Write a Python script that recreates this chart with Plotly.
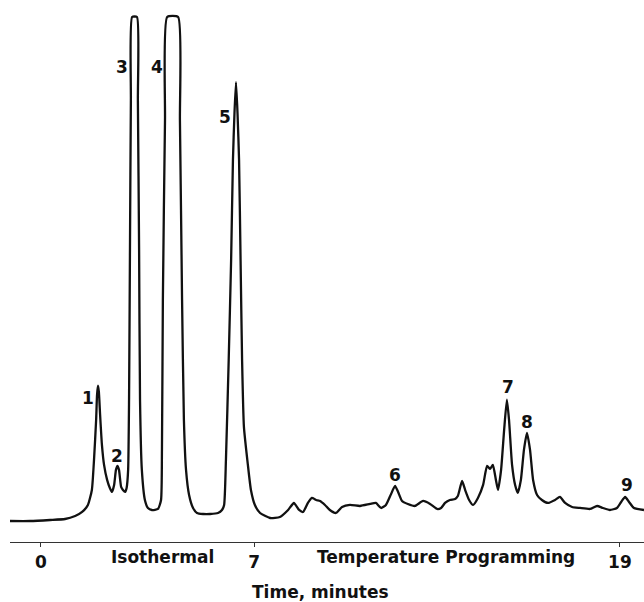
import plotly.graph_objects as go

# Retention time (minutes) and detector response (% of full scale)
time_min = [-1.02, -0.36, 0.30, 0.79, 1.12, 1.35, 1.54, 1.67, 1.74, 1.81, 1.84, 1.87, 1.90, 1.94,
            2.00, 2.07, 2.17, 2.26, 2.33, 2.40, 2.46, 2.51, 2.56, 2.63, 2.69, 2.76, 2.81, 2.86,
            2.89, 2.92, 2.95, 2.99, 3.15, 3.18, 3.22, 3.25, 3.31, 3.41, 3.51, 3.64, 3.84, 3.94,
            3.97, 4.00, 4.07, 4.14, 4.50, 4.56, 4.63, 4.69, 4.76, 4.86, 4.99, 5.12, 5.32, 5.55,
            5.81, 5.94, 6.01, 6.07, 6.16, 6.24, 6.30, 6.35, 6.40, 6.45, 6.50, 6.55, 6.60, 6.66,
            6.79, 6.89, 7.02, 7.19, 7.52, 7.84, 8.11, 8.30, 8.47, 8.60, 8.76, 8.89, 9.03, 9.16,
            9.32, 9.48, 9.68, 9.88, 10.14, 10.47, 10.80, 10.99, 11.16, 11.32, 11.49, 11.62, 11.72,
            11.85, 12.04, 12.27, 12.54, 12.77, 13.00, 13.13, 13.26, 13.42, 13.59, 13.68, 13.82,
            13.92, 14.05, 14.18, 14.34, 14.51, 14.64, 14.74, 14.83, 14.93, 15.00, 15.10, 15.20,
            15.29, 15.36, 15.46, 15.56, 15.65, 15.75, 15.85, 15.95, 16.05, 16.15, 16.28, 16.44,
            16.64, 16.87, 17.03, 17.20, 17.43, 17.69, 18.02, 18.25, 18.44, 18.67, 18.90, 19.04,
            19.17, 19.30, 19.46, 19.79]
response = [-0.6, -0.6, -0.4, -0.2, 0.4, 1.2, 2.6, 5.6, 11.6, 19.6, 24.6, 26.4, 25.2, 20.6,
            14.6, 10.6, 7.6, 6.0, 5.2, 6.6, 9.6, 10.4, 9.6, 6.2, 5.6, 5.2, 6.0, 9.6,
            23.6, 53.5, 83.4, 100, 100, 83.4, 53.5, 23.6, 9.6, 3.6, 2.0, 1.6, 1.8, 3.6,
            13.6, 43.5, 79.4, 100, 100, 79.4, 43.5, 19.6, 9.6, 4.6, 2.0, 1.0, 0.8, 0.8,
            1.0, 1.6, 2.6, 11.6, 31.5, 51.5, 71.5, 80.8, 87.0, 80.8, 71.5, 51.5, 31.5, 18.2,
            10.6, 5.6, 2.6, 1.0, 0.0, 0.2, 1.6, 3.0, 1.6, 1.2, 3.0, 4.0, 3.6, 3.4,
            2.6, 1.6, 1.0, 2.2, 2.6, 2.4, 2.8, 3.0, 2.0, 2.6, 4.8, 6.4, 5.2,
            3.4, 2.8, 2.4, 3.4, 2.8, 1.8, 2.0, 3.0, 3.6, 3.8, 4.4, 7.4,
            5.6, 3.6, 2.6, 4.0, 6.6, 10.4, 9.8, 10.6, 7.6, 5.6, 9.6, 17.6,
            23.6, 19.6, 10.6, 6.6, 5.0, 7.6, 13.6, 17.0, 13.6, 7.6, 4.6, 3.6,
            3.0, 3.6, 4.2, 3.0, 2.2, 2.0, 1.8, 2.4, 2.0, 1.6, 2.0, 3.2,
            4.2, 3.2, 2.0, 1.6]

peak_labels = ["1", "2", "3", "4", "5", "6", "7", "8", "9"]
peak_label_time = [1.54, 2.49, 2.66, 3.81, 6.04, 11.62, 15.33, 15.95, 19.23]
peak_label_resp = [24.0, 12.4, 90.0, 90.0, 80.0, 8.6, 26.1, 19.2, 6.6]

tick_vals = [0, 7, 19]
tick_text = ["0", "7", "19"]
phase_labels = ["Isothermal", "Temperature Programming"]
phase_label_time = [3.99, 13.28]
axis_title = "Time, minutes"
axis_title_time = 9.16

FONT = "DejaVu Sans, Verdana, sans-serif"
TXT = "#111111"

fig = go.Figure()
fig.add_trace(go.Scatter(
    x=time_min, y=response, mode="lines",
    line=dict(color="#111111", width=2.3, shape="spline", smoothing=0.5),
    hoverinfo="skip", showlegend=False,
))

annotations = []
for lab, t, r in zip(peak_labels, peak_label_time, peak_label_resp):
    annotations.append(dict(x=t, y=r, xref="x", yref="y", text="<b>%s</b>" % lab,
                            showarrow=False, font=dict(family=FONT, size=17, color=TXT)))
for lab, t in zip(phase_labels, phase_label_time):
    annotations.append(dict(x=t, y=0, xref="x", yref="paper", text="<b>%s</b>" % lab,
                            showarrow=False, yanchor="middle", yshift=-15,
                            font=dict(family=FONT, size=17, color=TXT)))
annotations.append(dict(x=axis_title_time, y=0, xref="x", yref="paper", text="<b>%s</b>" % axis_title,
                        showarrow=False, yanchor="middle", yshift=-50,
                        font=dict(family=FONT, size=17, color=TXT)))

fig.update_layout(
    width=644, height=602,
    margin=dict(l=10, r=0, t=0, b=60),
    paper_bgcolor="white", plot_bgcolor="white",
    annotations=annotations,
    xaxis=dict(range=[-1.017, 19.79], tickvals=tick_vals, ticktext=["<b>%s</b>" % s for s in tick_text],
               showgrid=False, zeroline=False, showline=True, linecolor="#333333", linewidth=1.4,
               ticks="outside", ticklen=4, tickcolor="#333333", tickwidth=1.4,
               tickfont=dict(family=FONT, size=17, color=TXT)),
    yaxis=dict(range=[-4.79, 103.39], visible=False, showgrid=False, zeroline=False),
)

fig.write_html("out.html")
